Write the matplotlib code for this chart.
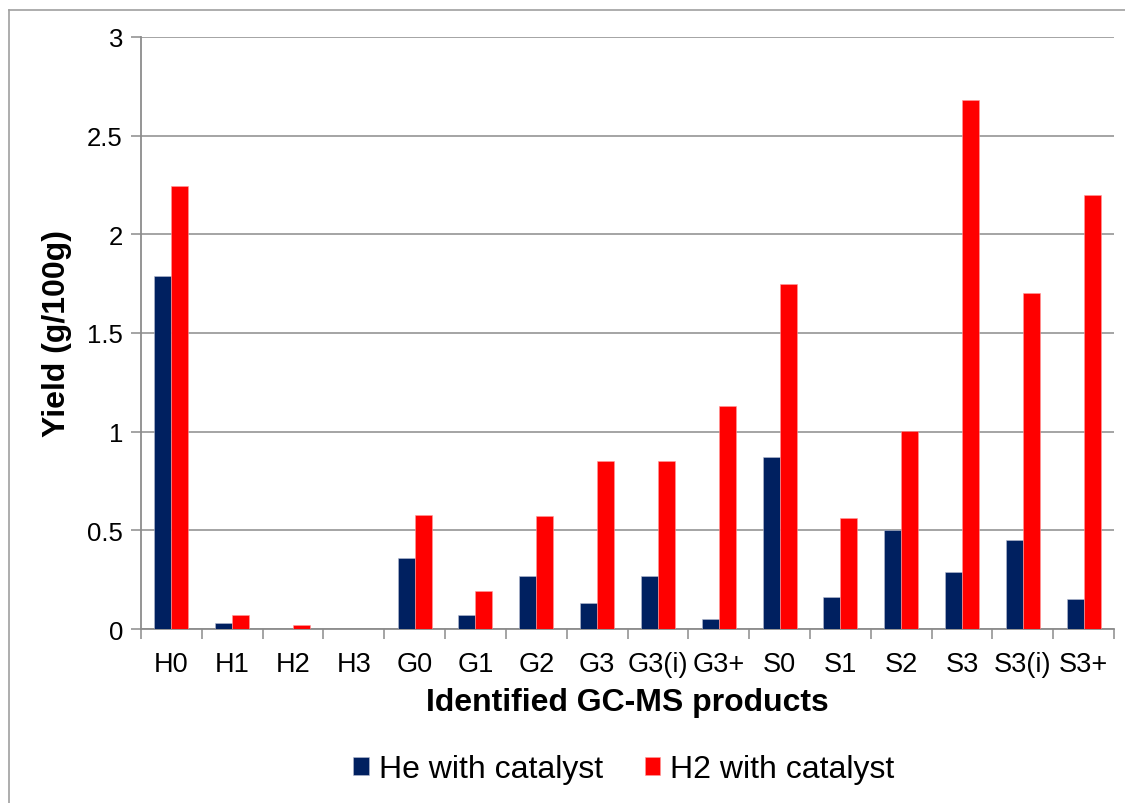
import matplotlib
matplotlib.use('Agg')
import matplotlib.pyplot as plt
from matplotlib.lines import Line2D
from matplotlib.ticker import FixedLocator, NullFormatter
import numpy as np

plt.rcParams['font.family'] = ['Liberation Sans', 'DejaVu Sans']

# Yield values
products = ['H0', 'H1', 'H2', 'H3', 'G0', 'G1', 'G2', 'G3', 'G3(i)', 'G3+',
            'S0', 'S1', 'S2', 'S3', 'S3(i)', 'S3+']
he_catalyst = [1.79, 0.03, 0.0, 0.0, 0.36, 0.07, 0.27, 0.13, 0.27, 0.05,
               0.87, 0.16, 0.50, 0.29, 0.45, 0.15]
h2_catalyst = [2.245, 0.07, 0.02, 0.0, 0.58, 0.195, 0.575, 0.85, 0.85, 1.13,
               1.75, 0.56, 1.005, 2.68, 1.705, 2.20]
y_ticks = [0, 0.5, 1, 1.5, 2, 2.5, 3]

blue = '#002060'
red = '#FF0000'
grey = '#8C8C8C'

fig = plt.figure(figsize=(11.25, 8.04), dpi=100)
ax = fig.add_axes([141/1125, 1 - 630/804, (1114-141)/1125, (630-38)/804])

x = np.arange(len(products))
w = 0.28
ax.bar(x - w/2, he_catalyst, w, color=blue, edgecolor='#B8BCD0', linewidth=0.4,
       label='He with catalyst', zorder=3)
ax.bar(x + w/2, h2_catalyst, w, color=red, edgecolor='#FF9A9A', linewidth=0.4,
       label='H2 with catalyst', zorder=3)

ax.set_xlim(-0.5, len(products) - 0.5)
ax.set_ylim(0, 3)
ax.set_yticks(y_ticks)
ax.set_yticklabels([f'{t:g}' for t in y_ticks])
ax.yaxis.grid(True, color=grey, linewidth=1.1, zorder=0)

# category labels centred, tick marks on the boundaries
ax.set_xticks(x)
ax.set_xticklabels(products)
ax.tick_params(axis='x', which='major', length=0, pad=16, labelsize=19.5)
ax.xaxis.set_minor_locator(FixedLocator(np.arange(-0.5, len(products), 1)))
ax.xaxis.set_minor_formatter(NullFormatter())
ax.tick_params(axis='x', which='minor', length=7, width=1.1, color=grey)
ax.tick_params(axis='y', length=7, width=1.1, color=grey, labelsize=18.5, pad=6)

for side in ['top', 'right']:
    ax.spines[side].set_visible(False)
for side in ['left', 'bottom']:
    ax.spines[side].set_color(grey)
    ax.spines[side].set_linewidth(1.3)

ax.set_xlabel('Identified GC-MS products', fontsize=23, fontweight='bold', labelpad=7)
ax.set_ylabel('Yield (g/100g)', fontsize=23, fontweight='bold', labelpad=11)

leg = fig.legend(loc='center', bbox_to_anchor=(0.5545, 1 - 770/804), ncol=2,
                 frameon=False, fontsize=23, handlelength=0.5, handleheight=0.5,
                 handletextpad=0.3, columnspacing=1.3)

# outer chart border
fig.add_artist(Line2D([9/1125, 9/1125], [0, 1 - 11/804], color='#A0A0A0', linewidth=1.2))
fig.add_artist(Line2D([9/1125, 1], [1 - 11/804, 1 - 11/804], color='#A0A0A0', linewidth=1.2))

fig.savefig('out.png', dpi=100)
